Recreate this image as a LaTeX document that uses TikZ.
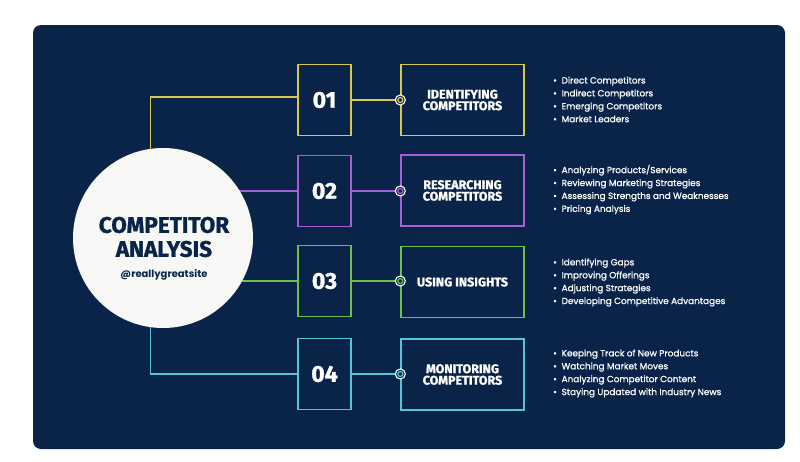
\documentclass[tikz,border=0pt]{standalone}
\usepackage{fontspec}
\setmainfont{Poppins}
\newfontfamily\dispfont[FakeBold=1.2]{Fira Sans}
\newfontfamily\listfont[FakeBold=1]{Poppins}
\newfontfamily\sitefont{Poppins}
\definecolor{navy}{HTML}{0A2449}
\definecolor{cyel}{HTML}{D6C84C}
\definecolor{cpur}{HTML}{A85FD6}
\definecolor{cgrn}{HTML}{6DC04B}
\definecolor{ccya}{HTML}{55C3D9}
\definecolor{offwhite}{HTML}{F7F7F5}
\tikzset{
  numbox/.style={draw=#1, line width=1.4pt, minimum width=53pt, minimum height=71pt, inner sep=0pt,
    text=white, font=\dispfont\bfseries\fontsize{23}{23}\selectfont},
  titlebox/.style={draw=#1, line width=1.4pt, minimum width=123pt, minimum height=71pt, inner sep=0pt,
    text=white, align=center, font=\dispfont\bfseries\fontsize{12.5}{11.5}\selectfont},
  conn/.style={draw=#1, line width=1.5pt},
  marker/.style={circle, draw=white, fill=navy, line width=1.1pt, minimum size=10pt, inner sep=0pt},
  markerin/.style={circle, draw=#1, line width=1.3pt, minimum size=5pt, inner sep=0pt},
  bulletlist/.style={anchor=west, text=white, align=left, inner sep=0pt,
    font=\listfont\fontsize{8.9}{12.9}\selectfont}
}
\begin{document}
\begin{tikzpicture}[x=1pt,y=-1pt]
\useasboundingbox (0,0) rectangle (800,461);
\fill[white] (0,0) rectangle (800,461);
\fill[navy, rounded corners=8pt] (33,25) rectangle (785,449);

% number boxes
\node[numbox=cyel] (n1) at (324.5,100) {01};
\node[numbox=cpur] (n2) at (324.5,191) {02};
\node[numbox=cgrn] (n3) at (324.5,281) {03};
\node[numbox=ccya] (n4) at (324.5,374) {04};

% title boxes
\node[titlebox=cyel] (t1) at (462.5,100) {IDENTIFYING\\COMPETITORS};
\node[titlebox=cpur] (t2) at (462.5,190.5) {RESEARCHING\\COMPETITORS};
\node[titlebox=cgrn] (t3) at (462.5,282) {USING INSIGHTS};
\node[titlebox=ccya] (t4) at (462.5,374.5) {MONITORING\\COMPETITORS};

% connectors from centre
\coordinate (j1) at (150.7,97);
\coordinate (j4) at (150.7,374);
\coordinate (cc) at (163,238);
\draw[conn=cyel] (n1.west |- j1) -- (j1) -- (j1 |- cc);
\draw[conn=cpur] (n2.west) -- (n2.west -| cc);
\draw[conn=cgrn] (n3.west) -- (n3.west -| cc);
\draw[conn=ccya] (n4.west) -- (j4) -- (j4 |- cc);

% centre circle
\node[circle, fill=offwhite, minimum size=180pt, inner sep=0pt] (ctr) at (cc) {};
\node[text=navy, align=center, font=\dispfont\bfseries\fontsize{22.5}{24}\selectfont] (ttl) at (164,237) {COMPETITOR\\ANALYSIS};
\node[text=navy, font=\sitefont\bfseries\fontsize{10}{12}\selectfont] (site) at (164,275) {@reallygreatsite};

% connectors to title boxes with markers
\draw[conn=cyel] (n1.east) -- (n1.east -| t1.west);
\draw[conn=cpur] (n2.east) -- (n2.east -| t2.west);
\draw[conn=cgrn] (n3.east) -- (n3.east -| t3.west);
\draw[conn=ccya] (n4.east) -- (n4.east -| t4.west);
\node[marker] (m1) at (n1.east -| t1.west) {};
\node[marker] (m2) at (n2.east -| t2.west) {};
\node[marker] (m3) at (n3.east -| t3.west) {};
\node[marker] (m4) at (n4.east -| t4.west) {};
\node[markerin=cyel] (mi1) at (m1) {};
\node[markerin=cpur] (mi2) at (m2) {};
\node[markerin=cgrn] (mi3) at (m3) {};
\node[markerin=ccya] (mi4) at (m4) {};

% bullet lists
\node[bulletlist] (l1) at (553,99.5) {• \ Direct Competitors\\• \ Indirect Competitors\\• \ Emerging Competitors\\• \ Market Leaders};
\node[bulletlist] (l2) at (553,189.5) {• \ Analyzing Products/Services\\• \ Reviewing Marketing Strategies\\• \ Assessing Strengths and Weaknesses\\• \ Pricing Analysis};
\node[bulletlist] (l3) at (553,282.5) {• \ Identifying Gaps\\• \ Improving Offerings\\• \ Adjusting Strategies\\• \ Developing Competitive Advantages};
\node[bulletlist] (l4) at (553,373.5) {• \ Keeping Track of New Products\\• \ Watching Market Moves\\• \ Analyzing Competitor Content\\• \ Staying Updated with Industry News};
\end{tikzpicture}
\end{document}
